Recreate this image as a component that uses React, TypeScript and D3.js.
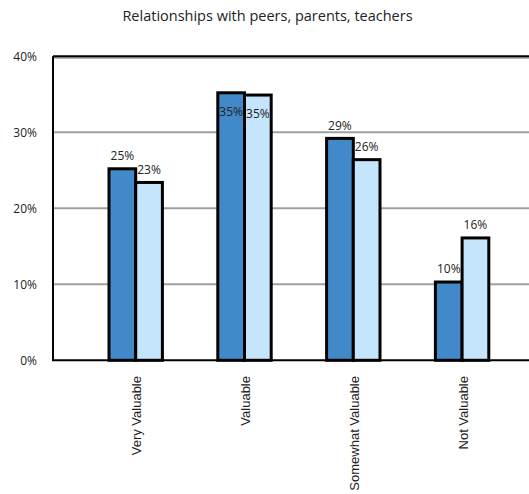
import React from "react";
import * as d3 from "d3";

const title = "Relationships with peers, parents, teachers";
const categories = ["Very Valuable", "Valuable", "Somewhat Valuable", "Not Valuable"];
const seriesA = [0.252, 0.352, 0.292, 0.103];
const seriesB = [0.234, 0.349, 0.264, 0.161];
const yTicks = [0, 0.1, 0.2, 0.3, 0.4];

const W = 529;
const H = 494;
const plotLeft = 53;
const plotTop = 56.3;
const plotBottom = 360.3;

export default function App() {
  const y = d3.scaleLinear().domain([0, 0.4]).range([plotBottom, plotTop]);
  const x = d3.scaleBand<string>().domain(categories).range([81.3, 516.5]);
  const inner = d3.scaleBand<string>().domain(["a", "b"]).range([0, 53.4]);
  const colors: Record<string, string> = { a: "#4189c9", b: "#c4e5fc" };
  const fmt = d3.format(".0%");
  const font = "'Open Sans', sans-serif";

  const bars: { key: string; cat: string; v: number }[] = [];
  categories.forEach((c, i) => {
    bars.push({ key: "a", cat: c, v: seriesA[i] });
    bars.push({ key: "b", cat: c, v: seriesB[i] });
  });

  return (
    <svg width={W} height={H} style={{ position: "absolute", left: 0, top: 0 }}>
      <rect width={W} height={H} fill="#fff" />
      <text x={267.5} y={21} textAnchor="middle" fontFamily={font} fontSize={14.5} fill="#222">
        {title}
      </text>
      {yTicks.map((t) => (
        <g key={t}>
          {t > 0 && (
            <line x1={plotLeft} x2={W} y1={y(t) + (t === 0.4 ? 1.5 : 0)} y2={y(t) + (t === 0.4 ? 1.5 : 0)} stroke="#a0a0a0" strokeWidth={2} />
          )}
          <text x={37} y={y(t)} dy="0.35em" textAnchor="end" fontFamily={font} fontSize={12} fill="#222">
            {fmt(t)}
          </text>
        </g>
      ))}
      <line x1={plotLeft} x2={W} y1={plotTop} y2={plotTop} stroke="#000" strokeWidth={2} />
      <line x1={plotLeft} x2={plotLeft} y1={plotTop} y2={plotBottom} stroke="#000" strokeWidth={2} />
      <line x1={plotLeft - 1} x2={W} y1={plotBottom} y2={plotBottom} stroke="#000" strokeWidth={2} />
      {bars.map((b) => {
        const bx = (x(b.cat) as number) + x.bandwidth() / 2 - 26.7 + (inner(b.key) as number);
        const bw = inner.bandwidth();
        const top = y(b.v);
        const inside = b.v > 0.33;
        return (
          <g key={b.cat + b.key}>
            <rect x={bx} y={top} width={bw} height={plotBottom - top} fill={colors[b.key]} stroke="#000" strokeWidth={3} />
            <text
              x={bx + bw / 2}
              y={inside ? top + 19 : top - 13}
              dy="0.35em"
              textAnchor="middle"
              fontFamily={font}
              fontSize={12}
              fill="#222"
            >
              {fmt(b.v)}
            </text>
          </g>
        );
      })}
      {categories.map((c) => {
        const cx = (x(c) as number) + x.bandwidth() / 2;
        return (
          <text
            key={c}
            transform={`translate(${cx + 1},376) rotate(-90)`}
            dy="0.35em"
            textAnchor="end"
            fontFamily="'Liberation Sans', Arial, sans-serif"
            fontSize={13}
            fill="#222"
          >
            {c}
          </text>
        );
      })}
    </svg>
  );
}
